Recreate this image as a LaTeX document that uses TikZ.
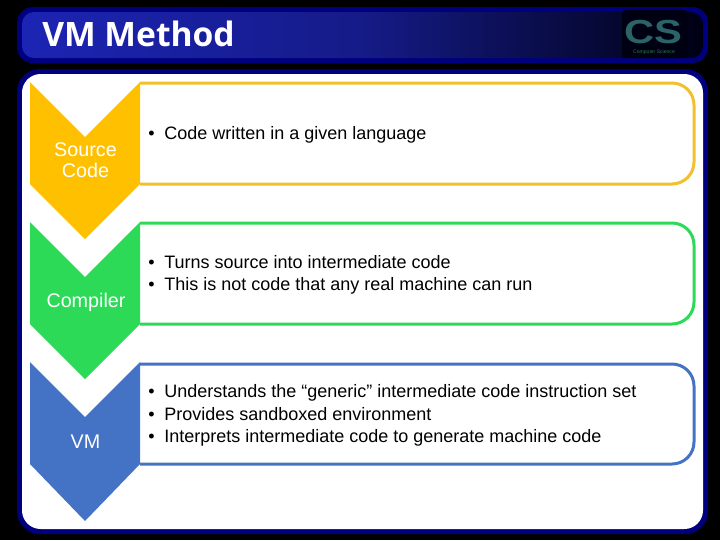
\documentclass[tikz,border=0pt]{standalone}
\usepackage{fontspec}
\setmainfont{Liberation Sans}
\newfontfamily\titlefont{Open Sans}
\usetikzlibrary{calc}
\definecolor{navy1}{HTML}{00007F}
\definecolor{headblue}{HTML}{1C24B4}
\definecolor{cyellow}{HTML}{FFC000}
\definecolor{lyellow}{HTML}{F2BF2E}
\definecolor{cgreen}{HTML}{2CDA58}
\definecolor{cblue}{HTML}{4472C4}
\definecolor{logoa}{HTML}{2A6468}
\definecolor{logob}{HTML}{2C7A48}
\tikzset{
  x=0.75pt,y=-0.75pt,
  chev/.style={fill=#1,draw=none},
  rbox/.style={draw=#1,line width=2.25pt,fill=white,line join=round},
  bodytext/.style={text=black,font=\fontsize{13.5pt}{16.9pt}\selectfont,anchor=west,align=left,inner sep=0pt},
  chevtext/.style={text=white,font=\fontsize{14.8pt}{15.8pt}\selectfont,align=center,inner sep=0pt}
}
\begin{document}
\begin{tikzpicture}
\useasboundingbox (0,0) rectangle (720,540);
\fill[black] (0,0) rectangle (720,540);
% header
\fill[navy1,rounded corners=12pt] (17,7) rectangle (708,63);
\shade[left color=headblue,right color=black!85!navy1,middle color=headblue!75!black,rounded corners=9pt] (22,12) rectangle (703,58);
\node[anchor=west,text=white,inner sep=0pt,font=\titlefont\bfseries\fontsize{25.2pt}{30pt}\selectfont] (title) at (42,34) {VM Method};
% logo
\fill[black!85!navy1,rounded corners=3pt] (622,10) rectangle (688,58);
\node[inner sep=0pt,xscale=1.25,font=\bfseries\fontsize{25pt}{26pt}\selectfont,text=logoa] (logo) at (653,32) {CS};
\node[inner sep=0pt,font=\fontsize{3.8pt}{4pt}\selectfont,text=logob] (logotext) at (654,52) {Computer Science};
% panel
\fill[navy1,rounded corners=17pt] (17,69) rectangle (708,534);
\fill[white,rounded corners=14pt] (22,74) rectangle (703,529);
% right boxes
\path[rbox=lyellow] (140,83) -- (672,83) to[out=0,in=90] (694,105) -- (694,162) to[out=-90,in=0] (672,184) -- (140,184);
\path[rbox=cgreen] (140,223) -- (672,223) to[out=0,in=90] (694,245) -- (694,302) to[out=-90,in=0] (672,324) -- (140,324);
\path[rbox=cblue] (140,364) -- (672,364) to[out=0,in=90] (694,386) -- (694,442) to[out=-90,in=0] (672,464) -- (140,464);
% chevrons
\path[chev=cyellow] (30,82) -- (85,137) -- (140,82) -- (140,184) -- (85,239) -- (30,184) -- cycle;
\path[chev=cgreen] (30,222) -- (85,277) -- (140,222) -- (140,324) -- (85,379) -- (30,324) -- cycle;
\path[chev=cblue] (30,362) -- (85,417) -- (140,362) -- (140,464) -- (85,521) -- (30,464) -- cycle;
% chevron labels
\node[chevtext] (src) at (85.5,160.5) {Source\\Code};
\node[chevtext] (cmp) at (86,302.5) {Compiler};
\node[chevtext] (vm) at (85.5,441.5) {VM};
% bullets
\node[bodytext] (t1) at (148,135) {•\hspace{7.3pt}Code written in a given language};
\node[bodytext] (t2) at (148,275) {•\hspace{7.3pt}Turns source into intermediate code\\•\hspace{7.3pt}This is not code that any real machine can run};
\node[bodytext] (t3) at (148,415.5) {•\hspace{7.3pt}Understands the “generic” intermediate code instruction set\\•\hspace{7.3pt}Provides sandboxed environment\\•\hspace{7.3pt}Interprets intermediate code to generate machine code};
\end{tikzpicture}
\end{document}
